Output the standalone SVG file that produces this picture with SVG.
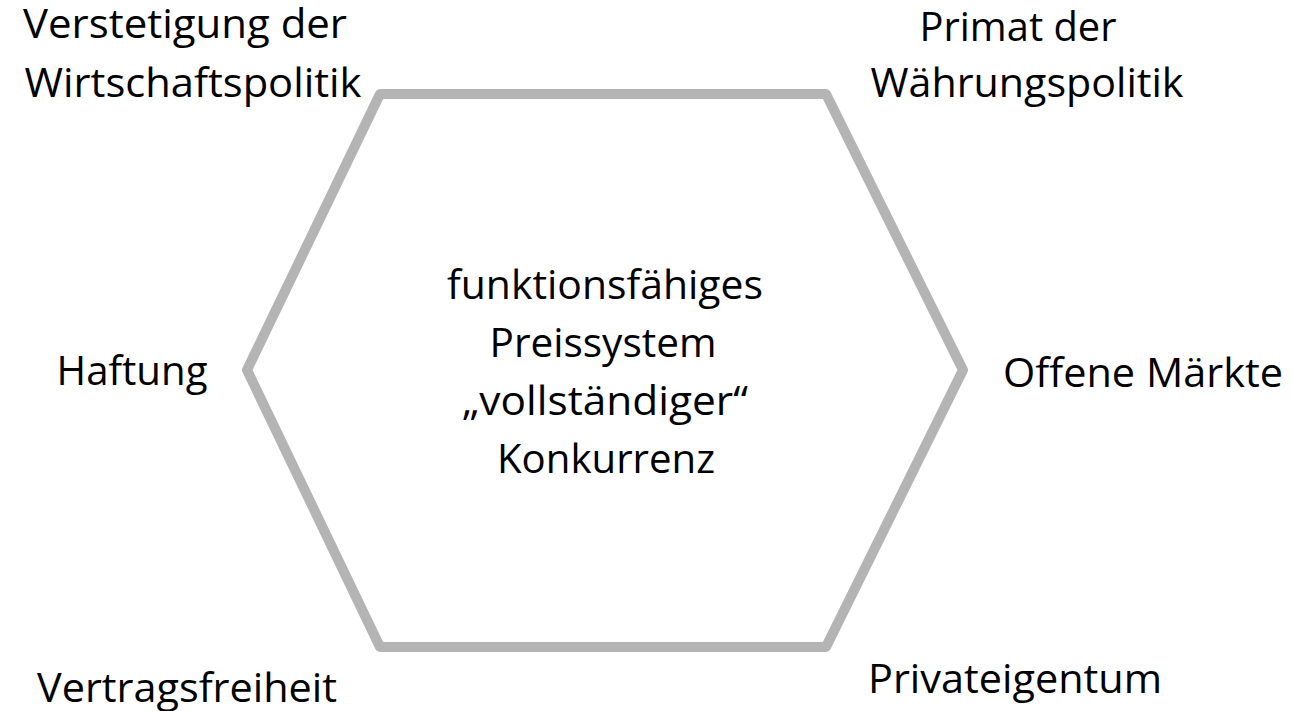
<svg xmlns="http://www.w3.org/2000/svg" width="1292" height="711" viewBox="0 0 1292 711">
<style>
  .lbl { font-family: "Open Sans", "Liberation Sans", sans-serif; font-size: 41px; fill: #000000; text-anchor: middle; }
  .hex { fill: #ffffff; stroke: #b4b4b4; stroke-width: 10; stroke-linejoin: round; }
</style>
<rect width="1292" height="711" fill="#ffffff"/>
<g id="connectors">
  <polygon class="hex" points="380,94 826,94 963,370 826,647 380,647 247,370"/>
</g>
<g id="center">
  <text class="lbl" x="605" y="299" textLength="316" lengthAdjust="spacingAndGlyphs">funktionsfähiges</text>
  <text class="lbl" x="603" y="357" textLength="227" lengthAdjust="spacingAndGlyphs">Preissystem</text>
  <text class="lbl" x="605" y="415" textLength="286" lengthAdjust="spacingAndGlyphs">„vollständiger“</text>
  <text class="lbl" x="606" y="473" textLength="218" lengthAdjust="spacingAndGlyphs">Konkurrenz</text>
</g>
<g id="verstetigung">
  <text class="lbl" x="185" y="38" textLength="324" lengthAdjust="spacingAndGlyphs">Verstetigung der</text>
  <text class="lbl" x="193" y="97" textLength="337" lengthAdjust="spacingAndGlyphs">Wirtschaftspolitik</text>
</g>
<g id="primat">
  <text class="lbl" x="1018" y="41" textLength="197" lengthAdjust="spacingAndGlyphs">Primat der</text>
  <text class="lbl" x="1027" y="97" textLength="313" lengthAdjust="spacingAndGlyphs">Währungspolitik</text>
</g>
<g id="haftung">
  <text class="lbl" x="132" y="385" textLength="151" lengthAdjust="spacingAndGlyphs">Haftung</text>
</g>
<g id="offene-maerkte">
  <text class="lbl" x="1143" y="387" textLength="280" lengthAdjust="spacingAndGlyphs">Offene Märkte</text>
</g>
<g id="vertragsfreiheit">
  <text class="lbl" x="187" y="702" textLength="300" lengthAdjust="spacingAndGlyphs">Vertragsfreiheit</text>
</g>
<g id="privateigentum">
  <text class="lbl" x="1015" y="693" textLength="294" lengthAdjust="spacingAndGlyphs">Privateigentum</text>
</g>
</svg>
